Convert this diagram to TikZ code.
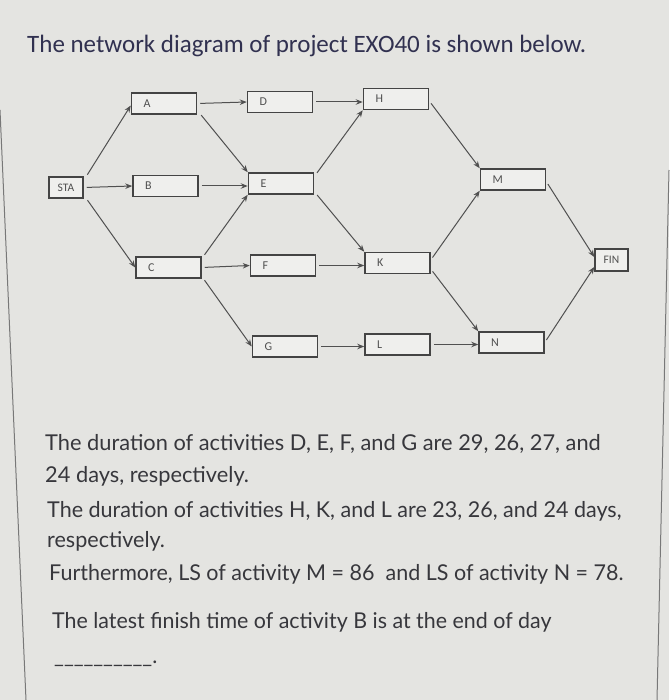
\documentclass[tikz,border=0pt]{standalone}
\usepackage{fontspec}
\setmainfont{Lato}
\newfontfamily\calib{Carlito}
\usetikzlibrary{arrows.meta}
\definecolor{bgc}{RGB}{228,228,225}
\definecolor{txc}{RGB}{55,55,60}
\definecolor{boxc}{RGB}{68,68,68}
\definecolor{labc}{RGB}{80,80,80}
\definecolor{arrc}{RGB}{80,80,80}
\definecolor{edgec}{RGB}{120,120,120}
\tikzset{
  actbox/.style={draw=boxc, line width=1.5pt, fill=bgc!60!white, rectangle,
    minimum height=21pt, text width=41pt, inner xsep=12pt, inner ysep=0pt,
    align=left, font=\calib\fontsize{12}{12}\selectfont, text=labc},
  endbox/.style={draw=boxc, line width=1.5pt, fill=bgc!60!white, rectangle,
    minimum height=21pt, minimum width=34pt, inner sep=0pt,
    font=\calib\fontsize{11.5}{11.5}\selectfont, text=labc},
  conn/.style={draw=arrc, line width=1pt, -{Stealth[length=7pt,width=5.5pt]}, shorten <=3pt},
  bodytext/.style={anchor=base west, inner sep=0pt, text=txc, font=\fontsize{21.8}{24}\selectfont},
}
\begin{document}
\begin{tikzpicture}[x=1pt,y=-1pt]
\fill[bgc] (0,0) rectangle (669,700);
\useasboundingbox (0,0) rectangle (669,700);
% photo frame edges
\draw[edgec, line width=1pt] (0,110) coordinate (fl1) -- (26,700) coordinate (fl2);
\draw[edgec, line width=1pt] (669,170) coordinate (fr1) -- (657,700) coordinate (fr2);
% title
\node[anchor=base west, inner sep=0pt, text=txc!90!blue, font=\calib\fontsize{25}{28}\selectfont] (title) at (27,53) {The network diagram of project EXO40 is shown below.};
% nodes
\node[endbox] (STA) at (66,187.5) {STA};
\node[actbox] (A) at (164,103.5) {A};
\node[actbox] (B) at (165.5,186) {B};
\node[actbox] (C) at (168.5,267.5) {C};
\node[actbox] (D) at (280,102) {D};
\node[actbox] (E) at (281,183.5) {E};
\node[actbox] (F) at (283,265.5) {F};
\node[actbox] (G) at (285,346.5) {G};
\node[actbox] (H) at (396,99) {H};
\node[actbox] (K) at (397.5,263) {K};
\node[actbox] (L) at (397.5,344.5) {L};
\node[actbox] (M) at (513,179.5) {M};
\node[actbox] (N) at (511.5,342.5) {N};
\node[endbox, minimum width=33pt, minimum height=22pt] (FIN) at (611.5,260) {FIN};
% connectors
\draw[conn] ([shift={(2pt,-1pt)}]STA.north east) -- ([yshift=-2pt]A.west);
\draw[conn] (STA.east) -- (B.west);
\draw[conn] ([shift={(2pt,1pt)}]STA.south east) -- (C.west);
\draw[conn] (A.east) -- (D.west);
\draw[conn] ([shift={(2pt,2pt)}]A.south east) -- (E.north west);
\draw[conn] (B.east) -- (B.east -| E.west);
\draw[conn] ([shift={(1pt,-1pt)}]C.north east) -- (E.south west);
\draw[conn] (C.east) -- (F.west);
\draw[conn] ([shift={(1pt,1pt)}]C.south east) -- (G.west);
\draw[conn] (D.east) -- (D.east -| H.west);
\draw[conn] ([shift={(1pt,-3pt)}]E.north east) -- (H.south west);
\draw[conn] ([shift={(1pt,2pt)}]E.south east) -- (K.north west);
\draw[conn] (F.east) -- (F.east -| K.west);
\draw[conn] (G.east) -- (G.east -| L.west);
\draw[conn] ([yshift=-2pt]H.east) -- (M.north west);
\draw[conn] ([yshift=3pt]K.east) -- (M.south west);
\draw[conn] ([yshift=-6pt]K.east) -- (N.north west);
\draw[conn] (L.east) -- (L.east -| N.west);
\draw[conn] ([yshift=-2pt]M.east) -- ([yshift=3pt]FIN.west);
\draw[conn] (N.east) -- ([yshift=-7pt]FIN.west);
% question text
\node[bodytext] (t1) at (45,450) {The duration of activities D, E, F, and G are 29, 26, 27, and};
\node[bodytext] (t2) at (45,482) {24 days, respectively.};
\node[bodytext, xscale=0.988] (t3) at (47,517) {The duration of activities H, K, and L are 23, 26, and 24 days,};
\node[bodytext, xscale=0.988] (t4) at (47,547) {respectively.};
\node[bodytext, xscale=0.986] (t5) at (49,580) {Furthermore, LS of activity M = 86\ \ and LS of activity N = 78.};
\node[bodytext, xscale=0.982] (t6) at (52,628) {The latest finish time of activity B is at the end of day};
\node[bodytext, xscale=0.98] (t7) at (54,663) {\_\_\_\_\_\_\_\_\_\_.};
\end{tikzpicture}
\end{document}
